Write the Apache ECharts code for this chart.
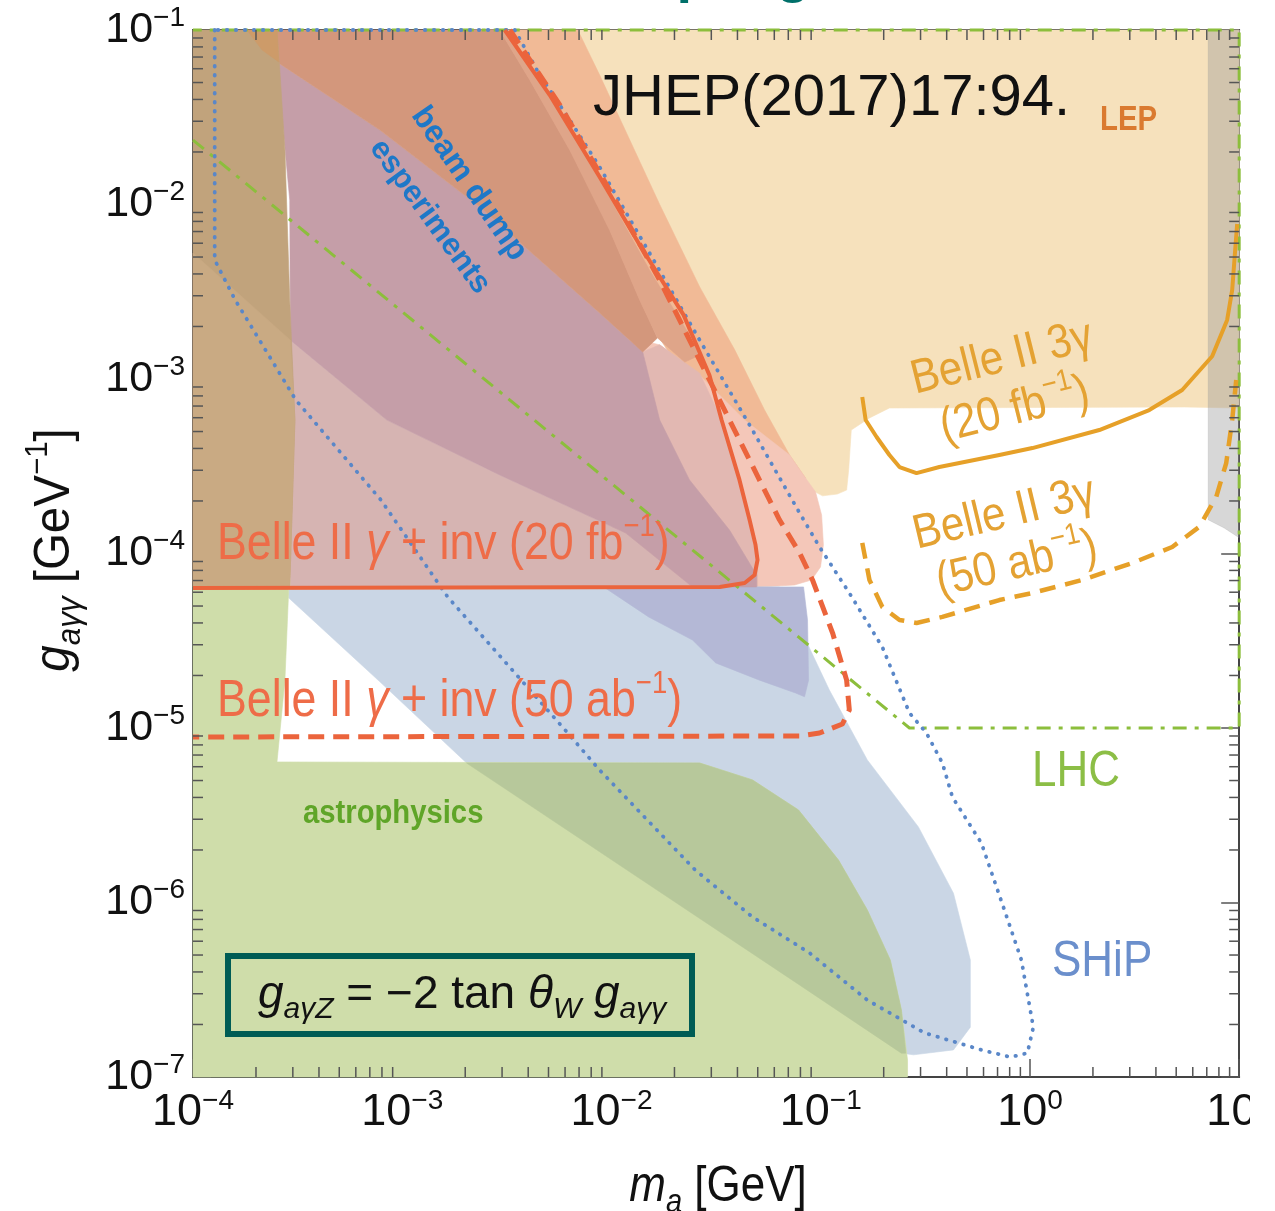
<!DOCTYPE html>
<html>
<head>
<meta charset="utf-8">
<script src="https://cdn.jsdelivr.net/npm/echarts@6/dist/echarts.min.js"></script>
<style>
  html, body { margin: 0; padding: 0; background: #ffffff; }
  #chart { width: 1275px; height: 1211px; }
</style>
</head>
<body>
<div id="chart"></div>
<script>
// ---- axis ranges and tick values ----
const massRange = [1e-4, 10];          // m_a [GeV]
const couplingRange = [1e-7, 1e-1];    // g_aγγ [GeV^-1]
const massDecades = [1e-4, 1e-3, 1e-2, 1e-1, 1];
const couplingDecades = [1e-7, 1e-6, 1e-5, 1e-4, 1e-3, 1e-2];
const minorMantissas = [2, 3, 4, 5, 6, 7, 8, 9];

// ---- shaded regions, vertices as [m_a, g_aγγ] ----
const lepRegion = [[2.1e-3,0.1],[10,0.1],[10,6.82e-4],[5.46,6.91e-4],[0.213,6.82e-4],[0.171,5.98e-4],[0.140,5.10e-4],[0.136,3.01e-4],[0.133,2.31e-4],[0.120,2.19e-4],[0.102,2.14e-4],[0.0904,2.31e-4],[0.0792,3.01e-4]];
const greyBand = [[7.11,0.1],[10,0.1],[10,1.23e-4],[8.48,1.40e-4],[7.11,1.56e-4]];
const salmonLight = [[1.88e-3,0.1],[6.9e-3,0.1],[8.78e-3,5.52e-2],[1.18e-2,2.57e-2],[1.70e-2,1e-2],[2.64e-2,3.37e-3],[3.88e-2,1.47e-3],[5.39e-2,6.64e-4],[7.10e-2,3.67e-4],[8.46e-2,2.71e-4],[2.64e-2,7.58e-4]];
const babarRegion = [[1.70e-2,1.57e-3],[2.64e-2,1.05e-3],[4.33e-2,5.82e-4],[7.10e-2,3.67e-4],[8.46e-2,2.71e-4],[9.45e-2,2.25e-4],[0.101,1.66e-4],[0.103,1.12e-4],[9.98e-2,8.37e-5],[9.04e-2,7.05e-5],[7.5e-2,6.6e-5],[5.1e-2,6.43e-5],[1.094e-2,6.43e-5],[8.78e-3,7.58e-4],[1.364e-2,1.67e-3]];
const babarInner = [[1.70e-2,1.57e-3],[2.64e-2,1.08e-3],[3.36e-2,5.82e-4],[4.09e-2,2.64e-4],[4.57e-2,1.56e-4],[4.88e-2,1.12e-4],[4.99e-2,9.18e-5],[4.99e-2,6.43e-5],[2.44e-2,6.43e-5],[1.41e-2,1.43e-3]];
const blueRegion = [[2.87e-4,5.56e-5],[7.82e-4,1.84e-5],[2.03e-3,6.30e-6],[1.52e-2,1.26e-6],[7.92e-2,3.37e-7],[0.243,1.37e-7],[0.278,1.34e-7],[0.431,1.43e-7],[0.519,1.93e-7],[0.519,4.68e-7],[0.431,1.13e-6],[0.293,2.71e-6],[0.167,6.56e-6],[0.110,1.65e-5],[7.92e-2,3.79e-5],[6.35e-2,6.43e-5],[2.87e-4,6.43e-5]];
const astroRegion = [[1e-4,6.43e-5],[2.87e-4,6.43e-5],[2.75e-4,1.88e-5],[2.52e-4,6.39e-6],[2.64e-2,6.30e-6],[4.72e-2,5.04e-6],[7.83e-2,3.39e-6],[0.1216,1.75e-6],[0.167,9.06e-7],[0.215,4.68e-7],[0.243,2.42e-7],[0.26,1.25e-7],[0.26,1e-7],[1e-4,1e-7]];
const astroBlueOverlap = [[2.03e-3,6.3e-6],[2.64e-2,6.3e-6],[4.72e-2,5.04e-6],[7.83e-2,3.39e-6],[0.1216,1.75e-6],[0.167,9.06e-7],[0.215,4.68e-7],[0.243,2.42e-7],[0.255,1.37e-7],[0.243,1.37e-7],[7.92e-2,3.37e-7],[1.52e-2,1.26e-6]];
const purpleLow = [[9.18e-3,6.43e-5],[1.505e-2,4.33e-5],[2.44e-2,3.19e-5],[3.15e-2,2.36e-5],[5.1e-2,1.88e-5],[7.58e-2,1.587e-5],[8.37e-2,1.51e-5],[8.75e-2,1.88e-5],[8.65e-2,4.16e-5],[8.28e-2,6.43e-5]];
const pinkLight = [[2.92e-4,1.67e-3],[8.44e-4,5.82e-4],[2.92e-3,2.82e-4],[1.17e-2,1.31e-4],[2.44e-2,6.43e-5],[2.92e-4,6.43e-5]];
const mauveBand = [[2.52e-4,6.56e-2],[7.82e-4,2.67e-2],[2.35e-3,9.67e-3],[8.78e-3,2.39e-3],[1.41e-2,1.43e-3],[1.70e-2,5.82e-4],[2.36e-2,2.64e-4],[3.67e-2,1.36e-4],[4.94e-2,7.53e-5],[4.94e-2,6.43e-5],[2.44e-2,6.43e-5],[1.17e-2,1.31e-4],[2.92e-3,2.82e-4],[8.44e-4,5.82e-4],[2.92e-4,1.67e-3],[2.9e-4,1.06e-2]];
const beamDumpDark = [[2.52e-4,0.1],[2.92e-3,0.1],[4.07e-3,5.17e-2],[6.32e-3,2.05e-2],[9.8e-3,7.14e-3],[1.364e-2,2.84e-3],[1.66e-2,1.72e-3],[1.41e-2,1.43e-3],[8.78e-3,2.39e-3],[2.35e-3,9.67e-3],[7.82e-4,2.67e-2],[2.52e-4,6.56e-2]];
const beamDumpMid = [[2.92e-3,0.1],[3.19e-3,0.1],[5.66e-3,3.48e-2],[8.78e-3,1.38e-2],[1.52e-2,4.21e-3],[2.36e-2,1.79e-3],[2.64e-2,1.37e-3],[2.24e-2,1.25e-3],[1.66e-2,1.72e-3],[1.364e-2,2.84e-3],[9.8e-3,7.14e-3],[6.32e-3,2.05e-2],[4.07e-3,5.17e-2]];
const lowMassStrip = [[1e-4,0.1],[2.52e-4,0.1],[2.6e-4,5.9e-2],[2.75e-4,2.05e-2],[2.9e-4,2.84e-3],[3.07e-4,5.82e-4],[2.9e-4,6.43e-5],[1e-4,6.43e-5]];
const lowMassStripLower = [[1e-4,5.27e-3],[2.92e-4,1.67e-3],[3.07e-4,5.82e-4],[2.9e-4,6.43e-5],[1e-4,6.43e-5]];
const lowMassStripTop = [[1.81e-4,0.1],[2.52e-4,0.1],[2.57e-4,6.56e-2],[2.14e-4,7.68e-2]];

// ---- sensitivity curves ----
const belleInv20fb = [[3.09e-3,0.1],[5.07e-3,4.24e-2],[8.78e-3,1.44e-2],[1.364e-2,5.86e-3],[2.21e-2,2.33e-3],[2.94e-2,1.05e-3],[3.36e-2,5.82e-4],[4.09e-2,2.64e-4],[4.57e-2,1.56e-4],[4.88e-2,1.12e-4],[4.99e-2,9.18e-5],[4.83e-2,7.53e-5],[4.33e-2,6.77e-5],[3.29e-2,6.43e-5],[1e-4,6.34e-5]];
const belleInv50ab = [[3.27e-3,0.1],[5.66e-3,3.72e-2],[9.8e-3,1.21e-2],[1.70e-2,3.69e-3],[2.94e-2,9.87e-4],[4.57e-2,3.43e-4],[6.35e-2,1.56e-4],[7.92e-2,1.01e-4],[9.14e-2,7.05e-5],[0.114,3.5e-5],[0.133,1.88e-5],[0.137,1.27e-5],[0.127,1.054e-5],[9.87e-2,9.36e-6],[7.92e-2,9.0e-6],[1e-4,8.88e-6]];
const shipReach = [[1.27e-4,0.1],[1.27e-4,4.81e-3],[1.59e-4,2.84e-3],[3.10e-4,7.58e-4],[7.9e-4,2.03e-4],[1.65e-3,5.63e-5],[3.45e-3,2.07e-5],[6.18e-3,9.36e-6],[8.78e-3,5.74e-6],[1.364e-2,3.3e-6],[2.52e-2,1.53e-6],[4.72e-2,8.26e-7],[8.84e-2,5.14e-7],[0.167,2.76e-7],[0.313,1.79e-7],[0.586,1.43e-7],[0.806,1.30e-7],[0.972,1.37e-7],[1.038,1.93e-7],[0.91,4.68e-7],[0.755,9.06e-7],[0.586,2.19e-6],[0.426,4.02e-6],[0.3815,6.30e-6],[0.32,9.36e-6],[0.2655,1.22e-5],[0.197,2.91e-5],[0.137,5.94e-5],[9.87e-2,1.09e-4],[7.92e-2,1.71e-4],[4.57e-2,5.45e-4],[2.64e-2,1.67e-3],[1.52e-2,5.27e-3],[8.78e-3,1.64e-2],[6.32e-3,3.05e-2],[4.54e-3,5.52e-2],[3.45e-3,0.1],[1.27e-4,0.1]];
const lhcReach = [[1e-4,2.34e-2],[0.2655,1e-5],[10,1e-5],[10,0.1],[1e-4,0.1]];
const belle3g20fb = [[0.158,7.88e-4],[0.164,5.82e-4],[0.185,4.65e-4],[0.213,3.67e-4],[0.238,3.13e-4],[0.287,2.89e-4],[0.369,3.13e-4],[0.46,3.3e-4],[0.714,3.67e-4],[1.027,4.02e-4],[2.145,5.10e-4],[3.717,6.64e-4],[5.34,8.65e-4],[7.43,1.35e-3],[8.76,2.18e-3],[9.26,3.24e-3],[9.57,5.49e-3],[9.78,7.73e-3]];
const belle3g50ab = [[0.158,1.15e-4],[0.171,7.05e-5],[0.197,4.94e-5],[0.238,4.16e-5],[0.287,4.0e-5],[0.3815,4.33e-5],[0.714,5.41e-5],[1.027,5.94e-5],[1.779,7.05e-5],[3.083,8.82e-5],[4.786,1.09e-4],[6.44,1.42e-4],[7.77,2.11e-4],[8.67,3.30e-4],[9.26,5.82e-4],[9.68,9.87e-4]];

// ---- minor tick values (2..9 within each decade) ----
const minorMass = [];
massDecades.forEach(d => minorMantissas.forEach(m => minorMass.push(d * m)));
const minorCoupling = [];
couplingDecades.forEach(d => minorMantissas.forEach(m => minorCoupling.push(d * m)));

const FONT_R = "'Liberation Sans', Arial, sans-serif";
const TICK_COLOR = '#555555';

function regionSeries(name, pts, fill, z) {
  return {
    type: 'custom', name, coordinateSystem: 'cartesian2d',
    data: pts, encode: { x: 0, y: 1 }, z, silent: true, animation: false,
    renderItem(params, api) {
      if (params.dataIndex !== 0) return null;
      return {
        type: 'polygon',
        shape: { points: pts.map(p => api.coord(p)) },
        style: { fill, stroke: fill, lineWidth: 0.6 }
      };
    }
  };
}

function curveSeries(name, pts, color, width, dash, cap) {
  return {
    type: 'line', name, data: pts, showSymbol: false, symbol: 'none',
    clip: false, silent: true, animation: false, z: 20,
    lineStyle: { color, width, type: dash || 'solid', cap: cap || 'butt', join: 'round' }
  };
}

function minorTickSeries(name, values, vertical) {
  return {
    type: 'custom', name, coordinateSystem: 'cartesian2d', z: 30, silent: true, animation: false,
    data: values.map(v => vertical ? [v, couplingRange[0]] : [massRange[0], v]),
    encode: { x: 0, y: 1 },
    renderItem(params, api) {
      const v = api.value(vertical ? 0 : 1);
      const style = { stroke: TICK_COLOR, lineWidth: 1.5 };
      if (vertical) {
        const b = api.coord([v, couplingRange[0]]);
        const t = api.coord([v, couplingRange[1]]);
        return { type: 'group', children: [
          { type: 'line', shape: { x1: b[0], y1: b[1], x2: b[0], y2: b[1] - 10 }, style },
          { type: 'line', shape: { x1: t[0], y1: t[1], x2: t[0], y2: t[1] + 10 }, style }
        ]};
      }
      const l = api.coord([massRange[0], v]);
      const r = api.coord([massRange[1], v]);
      return { type: 'group', children: [
        { type: 'line', shape: { x1: l[0], y1: l[1], x2: l[0] + 10, y2: l[1] }, style },
        { type: 'line', shape: { x1: r[0], y1: r[1], x2: r[0] - 10, y2: r[1] }, style }
      ]};
    }
  };
}

function powerLabel(v) {
  const e = Math.round(Math.log10(v));
  return '{b|10}{s|' + (e < 0 ? '\u2212' + (-e) : String(e)) + '}';
}

function richSet(F, fill, family, weight) {
  const base = { fontFamily: family, fill, color: fill, fontWeight: weight || 'normal' };
  const lh = Math.round(F * 1.3);
  return {
    n:    Object.assign({}, base, { fontSize: F, lineHeight: lh, verticalAlign: 'middle' }),
    i:    Object.assign({}, base, { fontSize: F, lineHeight: lh, verticalAlign: 'middle', fontStyle: 'italic' }),
    sup:  Object.assign({}, base, { fontSize: Math.round(F * 0.62), lineHeight: Math.round(F * 0.62), verticalAlign: 'top' }),
    subi: Object.assign({}, base, { fontSize: Math.round(F * 0.66), lineHeight: Math.round(F * 0.66), verticalAlign: 'bottom', fontStyle: 'italic' })
  };
}

// text element; sx narrows the glyphs horizontally (condensed look)
function label(x, y, text, F, fill, opts) {
  opts = opts || {};
  return {
    type: 'text', x, y, rotation: opts.rotation || 0, scaleX: opts.sx || 1, z: 100, silent: true,
    style: {
      text, rich: richSet(F, fill, FONT_R, opts.weight), fill,
      fontSize: F, fontFamily: FONT_R, fontWeight: opts.weight || 'normal',
      align: opts.align || 'left', verticalAlign: 'middle'
    }
  };
}

const RED = '#EB643C';
const RED_TEXT = '#EE6C48';
const ORANGE = '#E6A028';
const ORANGE_TEXT = '#E4A233';

const graphics = [
  // page heading above the frame (only its lower edge falls inside the page)
  label(577, -24, '{n|coupling}', 56, '#00706A', { weight: 'bold' }),
  label(593, 99, '{n|JHEP(2017)17:94.}', 58, '#111111'),
  label(1100, 120, '{n|LEP}', 35, '#DA7A30', { weight: 'bold', sx: 0.84 }),
  label(418, 110, '{n|beam dump}', 32, '#1E78C8', { weight: 'bold', rotation: -0.965 }),
  label(376, 143, '{n|esperiments}', 31, '#1E78C8', { weight: 'bold', rotation: -0.94 }),
  label(303, 814, '{n|astrophysics}', 34, '#5FA528', { weight: 'bold', sx: 0.86 }),
  label(217, 545, '{n|Belle II }{i|\u03b3}{n| + inv (20 fb}{sup|\u22121}{n|)}', 52, RED_TEXT, { sx: 0.86 }),
  label(217, 702, '{n|Belle II }{i|\u03b3}{n| + inv (50 ab}{sup|\u22121}{n|)}', 52, RED_TEXT, { sx: 0.86 }),
  label(912, 381, '{n|Belle II 3\u03b3}', 48, ORANGE_TEXT, { rotation: 0.245, sx: 0.88 }),
  label(941, 429, '{n|(20 fb}{sup|\u22121}{n|)}', 48, ORANGE_TEXT, { rotation: 0.245, sx: 0.88 }),
  label(914, 536, '{n|Belle II 3\u03b3}', 48, ORANGE_TEXT, { rotation: 0.235, sx: 0.88 }),
  label(937, 583, '{n|(50 ab}{sup|\u22121}{n|)}', 48, ORANGE_TEXT, { rotation: 0.225, sx: 0.88 }),
  label(1032, 772, '{n|LHC}', 50, '#8CBE46', { sx: 0.88 }),
  label(1052, 962, '{n|SHiP}', 50, '#6B8FCC', { sx: 0.88 }),
  label(258, 995, '{i|g}{subi|a\u03b3Z}{n| = \u22122 tan }{i|\u03b8}{subi|W}{n| }{i|g}{subi|a\u03b3\u03b3}', 46, '#111111'),
  label(718, 1187, '{i|m}{subi|a}{n| [GeV]}', 50, '#111111', { align: 'center', sx: 0.88 }),
  label(55, 550, '{i|g}{subi|a\u03b3\u03b3}{n| [GeV}{sup|\u22121}{n|]}', 50, '#111111', { align: 'center', rotation: Math.PI / 2, sx: 0.95 }),
  {
    type: 'rect', z: 100, silent: true,
    shape: { x: 228, y: 956, width: 464, height: 78 },
    style: { fill: 'none', stroke: '#005C55', lineWidth: 6 }
  },
  // figure is trimmed just right of the frame
  {
    type: 'rect', z: 120, silent: true,
    shape: { x: 1250, y: 1080, width: 25, height: 70 },
    style: { fill: '#ffffff' }
  }
];

const axisCommon = {
  type: 'log', logBase: 10,
  splitLine: { show: false },
  minorTick: { show: false },
  axisLine: { show: true, onZero: false, lineStyle: { color: '#444444', width: 2 } },
  axisTick: { show: true, inside: true, length: 18, lineStyle: { color: TICK_COLOR, width: 1.5 } }
};

const option = {
  animation: false,
  backgroundColor: '#ffffff',
  grid: { left: 193, top: 30, width: 1047, height: 1047, containLabel: false },
  xAxis: [
    Object.assign({}, axisCommon, {
      min: massRange[0], max: massRange[1], position: 'bottom', splitNumber: 5,
      axisLabel: {
        margin: 10, formatter: powerLabel,
        rich: {
          b: { fontSize: 45, fontFamily: FONT_R, color: '#111111', lineHeight: 52, verticalAlign: 'middle' },
          s: { fontSize: 28, fontFamily: FONT_R, color: '#111111', lineHeight: 28, verticalAlign: 'top' }
        }
      }
    }),
    Object.assign({}, axisCommon, {
      min: massRange[0], max: massRange[1], position: 'top', splitNumber: 5,
      axisLabel: { show: false }
    })
  ],
  yAxis: [
    Object.assign({}, axisCommon, {
      min: couplingRange[0], max: couplingRange[1], position: 'left', splitNumber: 6,
      axisLabel: {
        margin: 8, formatter: powerLabel, align: 'right',
        rich: {
          b: { fontSize: 43, fontFamily: FONT_R, color: '#111111', lineHeight: 52, verticalAlign: 'middle' },
          s: { fontSize: 28, fontFamily: FONT_R, color: '#111111', lineHeight: 28, verticalAlign: 'top' }
        }
      }
    }),
    Object.assign({}, axisCommon, {
      min: couplingRange[0], max: couplingRange[1], position: 'right', splitNumber: 6,
      axisLabel: { show: false }
    })
  ],
  series: [
    regionSeries('LEP', lepRegion, '#F6E1BC', 1),
    regionSeries('grey band', greyBand, 'rgba(150,150,150,0.38)', 2),
    regionSeries('beam dump (light)', salmonLight, '#F1BA96', 3),
    regionSeries('BaBar', babarRegion, '#F4C7B9', 4),
    regionSeries('BaBar (inner)', babarInner, '#E2B8B2', 4.5),
    regionSeries('blue region', blueRegion, '#CAD6E5', 5),
    regionSeries('astrophysics', astroRegion, '#CFDDAA', 6),
    regionSeries('astrophysics overlap', astroBlueOverlap, '#B7C89B', 7),
    regionSeries('purple (low)', purpleLow, '#B4B8D6', 8),
    regionSeries('pink (light)', pinkLight, '#D6B4B2', 9),
    regionSeries('mauve band', mauveBand, '#C59EA8', 10),
    regionSeries('beam dump (dark)', beamDumpDark, '#D3977C', 11),
    regionSeries('beam dump (mid)', beamDumpMid, '#DFA589', 12),
    regionSeries('low-mass strip', lowMassStrip, '#C1A37C', 13),
    regionSeries('low-mass strip (lower)', lowMassStripLower, '#C9AA83', 14),
    regionSeries('low-mass strip (top)', lowMassStripTop, '#CD9B69', 15),

    curveSeries('LHC', lhcReach, '#8CBE3C', 3, [14, 8, 4, 8]),
    curveSeries('SHiP', shipReach, '#5A87C8', 3.8, [0.5, 8.5], 'round'),
    curveSeries('Belle II γ+inv 20 fb-1', belleInv20fb, RED, 4),
    curveSeries('Belle II γ+inv 50 ab-1', belleInv50ab, RED, 5, [16, 9]),
    curveSeries('Belle II 3γ 20 fb-1', belle3g20fb, ORANGE, 4),
    curveSeries('Belle II 3γ 50 ab-1', belle3g50ab, ORANGE, 4.5, [16, 10]),

    minorTickSeries('mass minor ticks', minorMass, true),
    minorTickSeries('coupling minor ticks', minorCoupling, false)
  ],
  graphic: graphics
};

const chart = echarts.init(document.getElementById('chart'), null, { renderer: 'canvas' });
chart.setOption(option);
</script>
</body>
</html>
